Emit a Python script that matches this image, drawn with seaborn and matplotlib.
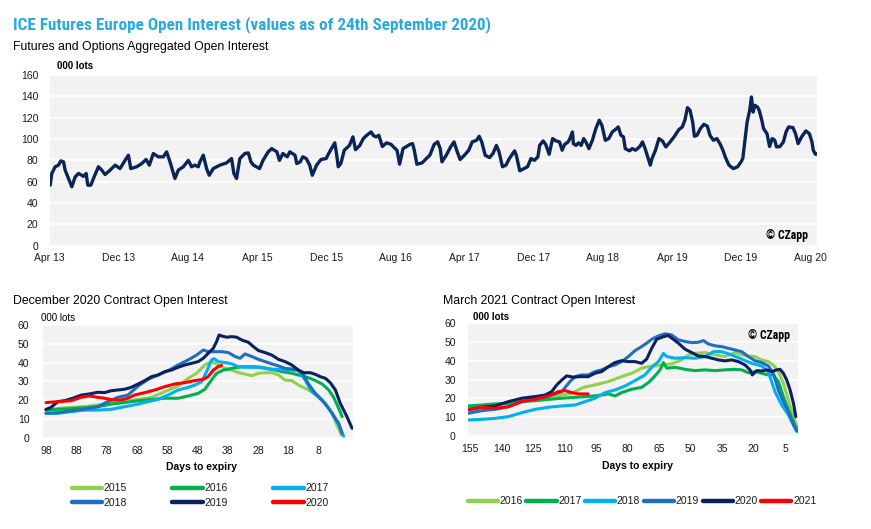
import matplotlib
matplotlib.use("Agg")
import matplotlib.pyplot as plt
import seaborn as sns
import pandas as pd
from matplotlib.lines import Line2D

W, H = 871, 529

# ---------------- data: top chart (months since Apr 2013, 000 lots) ----------------
top_month = [0.08, 0.27, 0.66, 1.04, 1.31, 1.62, 1.81, 2.2, 2.58, 2.97, 3.35, 3.74, 3.93, 4.24, 4.43, 4.78,
             5.16, 5.66, 6.05, 6.43, 7.01, 7.59, 8.16, 8.74, 9.13, 9.4, 10.09, 10.67, 11.17, 11.55, 12.01,
             12.59, 13.17, 13.55, 13.94, 14.51, 14.9, 15.48, 16.06, 16.44, 16.82, 17.21, 17.4, 17.79, 18.17,
             18.48, 18.94, 19.71, 20.48, 21.06, 21.33, 21.64, 22.02,
             22.6, 23.0, 23.3, 23.6, 24.3, 24.7, 25.3, 25.7, 26.3, 26.6, 27.0, 27.5, 27.8, 28.4, 28.6, 29.0,
             29.3, 29.7, 30.1, 30.4, 30.9, 31.4, 32.0, 32.4, 33.0, 33.2, 33.4, 33.7, 34.1, 34.7, 35.1, 35.4,
             35.9, 36.3, 36.7, 37.2, 37.5, 37.8, 38.1, 38.5, 39.0, 39.5, 39.9, 40.2, 40.5, 40.9, 41.3, 41.7,
             42.0, 42.2, 42.5, 43.1, 43.6, 44.0,
             44.5, 44.9, 45.2, 45.4, 45.9, 46.4, 46.8, 47.1, 47.5, 48.0, 48.5, 48.9, 49.4, 49.7, 50.0, 50.4,
             50.9, 51.3, 51.7, 52.0, 52.4, 52.8, 53.2, 53.8, 54.0, 54.4, 54.9, 55.3, 55.7, 56.1, 56.5, 56.7,
             57.1, 57.4, 57.8, 58.2, 58.6, 59.0, 59.3, 59.6, 60.0, 60.2, 60.5, 60.6, 60.9, 61.2, 61.5, 61.8,
             62.1, 62.4, 62.8, 63.2, 63.6, 63.9, 64.3, 64.7,
             65.1, 65.6, 65.8, 66.1, 66.4, 66.6, 67.1, 67.4, 67.8, 68.3, 68.6, 68.9, 69.2, 69.5, 69.7, 70.1,
             70.5, 70.9, 71.3, 71.8, 72.3, 72.8, 73.2, 73.5, 73.8, 74.1, 74.4, 74.6, 74.9, 75.3, 75.7, 76.1,
             76.4, 76.8, 77.2, 77.6, 77.9, 78.2, 78.6, 79.1, 79.6, 80.0, 80.2, 80.5, 80.7, 81.0, 81.2, 81.4,
             81.6, 81.9, 82.1, 82.4, 82.6, 83.0, 83.3, 83.6, 83.9, 84.1, 84.5, 84.9, 85.2, 85.5, 86.0, 86.3,
             86.6, 87.0, 87.5, 87.9, 88.2, 88.35, 88.6, 88.75]
top_oi = [56.7, 67.7, 74, 75.5, 79.5, 78.6, 70.8, 63, 55.2, 64.5, 67.7, 66, 65, 67.7, 56.7, 56.7,
          64.5, 74, 70.8, 66.7, 70.8, 75.5, 72.3, 80, 84.8, 72.3, 74, 77, 80.8, 75.5, 86.4,
          83.3, 83.3, 88, 78.6, 63, 70.8, 74, 80, 74, 75.5, 74, 78.6, 84.8, 72.3,
          66, 72.3, 75.5, 77.6, 81.7, 67.7, 63, 81.7,
          86.4, 87, 78.6, 75.5, 72.3, 80, 88, 91, 88, 80, 86.4, 83.3, 88, 84.8, 77, 78.6,
          83.3, 81.7, 75.5, 66, 75.5, 80.8, 81.7, 88, 96.4, 86.4, 74, 77, 89.5, 94, 102, 90,
          94, 100.4, 103.5, 106.6, 103, 102, 103.5, 93, 96.4, 95, 91.7, 89.5, 76.4, 91, 93, 95,
          95.7, 89.5, 76.4, 77.6, 81.7, 84.8,
          95, 97.3, 91, 78.6, 84.8, 92.6, 97.3, 89.5, 80.8, 84.8, 89.5, 97.3, 98.8, 102.6, 97.3, 84.8,
          82.6, 86.4, 94, 88, 74, 75.5, 81.7, 88.9, 84.8, 70.2, 72.3, 74, 81.7, 80, 83.3, 94,
          98.2, 95, 85.7, 100.4, 98.2, 97.3, 89.5, 95, 97.3, 100.4, 106.6, 95.7, 94, 96.4, 94, 100.4,
          96.4, 91, 98.8, 109.8, 117.6, 112.9, 98.8, 100.4,
          106.6, 109.8, 111.3, 103.5, 102, 91, 88.9, 91, 89.5, 93, 97.3, 91, 83.3, 75.5, 81.7, 89.5,
          100.4, 98.2, 92.6, 97.3, 102.6, 108.8, 111.3, 117.6, 129.4, 126.9, 116, 102.6, 103.5, 109.8, 113.8, 112,
          103.5, 98.8, 100.4, 95, 89.5, 82.6, 75.5, 72.3, 74, 78.6, 81.7, 102, 116, 126.9, 139.4, 125.3,
          131.6, 130, 126.9, 117.6, 109.8, 105, 93, 100.4, 98.8, 92.6, 93, 97.3, 106.6, 111.3, 110.7, 105,
          95.7, 102, 107.6, 105, 97.3, 89.5, 85.7, 86.0]
top_tick_months = [0, 8, 16, 24, 32, 40, 48, 56, 64, 72, 80, 88]
top_tick_labels = ["Apr 13", "Dec 13", "Aug 14", "Apr 15", "Dec 15", "Aug 16",
                   "Apr 17", "Dec 17", "Aug 18", "Apr 19", "Dec 19", "Aug 20"]

# ---------------- data: December 2020 contract (days to expiry, 000 lots) ----------------
dec_years = ["2015", "2016", "2017", "2018", "2019", "2020"]
dec_days_2015 = [98, 94.1, 89.7, 85.3, 80.9, 76.5, 72.1, 67.6, 63.2, 58.8, 54.4, 51.1, 48.3, 45.6, 43.4, 41.2,
                 38.9, 36.7, 34.5, 32.3, 30.1, 27.9, 25.7, 23.5, 21.3, 19.1, 16.9, 14.7, 12.5, 10.3, 8.0, 5.8,
                 3.6, 2.0, 0.5]
dec_oi_2015 = [14.7, 15.6, 16.2, 16.5, 17.4, 18.3, 19.2, 20.4, 21.5, 24.5, 27.5, 31.6, 34.3, 38.7, 40.5, 38.7,
               36.9, 36, 34.6, 33.9, 33, 34.3, 34.6, 34.6, 33.4, 30.7, 30.4, 28, 26.3, 24.5, 21.8, 18.3,
               13, 6.7, 1.4]
dec_days_2016 = [98, 94.1, 89.7, 85.3, 80.9, 76.5, 72.1, 67.6, 63.2, 58.8, 54.4, 51.1, 47.8, 45.6, 43.4, 41.7,
                 39.5, 36.7, 33.4, 30.1, 26.8, 23.5, 20.2, 16.9, 13.6, 10.8, 9.1, 6.9, 4.7, 3.1, 1.4, 0.3]
dec_oi_2016 = [14.7, 15.1, 15.5, 16, 16.5, 17.9, 18.7, 19.7, 20.4, 21, 21, 22.2, 23.6, 25.8, 30.7, 34.3,
               36, 36.9, 37.8, 37.8, 37.5, 36.4, 35.2, 34.3, 32.9, 31.6, 30.4, 28.6, 25.4, 21.5, 15.6, 11.2]
dec_days_2017 = [98, 94.1, 89.7, 85.3, 80.9, 76.5, 72.1, 67.6, 64.3, 61.0, 57.7, 54.4, 51.1, 48.9, 46.7, 45.0,
                 43.4, 42.5, 41.2, 38.9, 36.7, 34.5, 32.3, 30.1, 27.9, 25.7, 23.5, 21.3, 19.1, 16.9, 14.7, 12.5,
                 10.3, 8.0, 5.8, 3.6, 1.4, -0.2]
dec_oi_2017 = [13, 13, 13.9, 14.7, 14.7, 15.1, 16.5, 17.9, 19.2, 20.4, 22.7, 25.4, 26.8, 28, 29.8, 35.2,
               41.4, 42.1, 40.5, 40, 39.3, 37.8, 37.5, 37.5, 37.5, 36.8, 36.4, 36.4, 36.4, 36, 35.7, 30.7,
               24.5, 21.5, 17.9, 13, 6.7, 0.9]
dec_days_2018 = [98, 94.1, 89.7, 85.3, 80.9, 77.6, 74.3, 71.0, 67.6, 64.3, 61.0, 57.7, 54.4, 51.1, 48.3, 46.1,
                 44.5, 42.3, 40.1, 37.8, 35.6, 34.0, 32.3, 30.1, 27.9, 25.7, 23.5, 21.3, 19.1, 16.9, 14.7, 13.0,
                 11.4, 9.1, 6.9, 4.7, 2.5, 1.4, 0.3]
dec_oi_2018 = [13, 13.3, 14.4, 15.1, 16.5, 19.2, 21.5, 22.7, 27.5, 31.1, 33.4, 35.7, 38.7, 41.4, 44, 46.7,
               45.8, 45.8, 45.8, 45.3, 43.2, 42.3, 44.6, 43.2, 41.7, 40.5, 39.3, 38.2, 36.9, 36.6, 36, 33.4,
               28.6, 23.6, 20, 15.6, 10.3, 7.6, 2.3]
dec_days_2019 = [98, 96.3, 94.1, 91.9, 89.2, 86.4, 83.7, 80.9, 78.7, 76.5, 74.3, 72.1, 69.9, 67.6, 65.4, 63.2,
                 61.0, 58.8, 56.6, 54.4, 52.2, 50.0, 47.8, 46.1, 44.5, 42.8, 41.7, 40.9, 40.1, 38.4, 36.7, 35.1,
                 33.4, 31.2, 29.6, 27.9, 25.7, 23.5, 21.3, 19.1, 16.9, 14.7, 13.0, 10.8, 9.1, 7.5, 5.8, 4.2,
                 2.5, 0.9, -1.3, -3.0]
dec_oi_2019 = [15.1, 16.2, 19.2, 19.7, 21, 22.7, 23.3, 24.2, 24, 25, 25.4, 25.8, 26.8, 28.6, 30.4, 32.5,
               33.4, 35.2, 36, 37.5, 38.7, 39.6, 40.5, 42.3, 44.9, 47.6, 51.2, 54.7, 54.2, 53.5, 53.8, 53.5,
               52, 50.8, 48.5, 46.4, 45.3, 44, 41.7, 40.5, 38.7, 36, 34.6, 34.6, 33.7, 32.5, 31.6, 29.3,
               25.4, 18.3, 11.2, 5]
dec_days_2020 = [98, 94.1, 89.7, 86.4, 83.7, 80.9, 78.7, 75.9, 73.2, 71.0, 68.8, 65.4, 62.1, 58.8, 55.5, 52.2,
                 48.9, 46.1, 44.5, 42.8, 41.2, 40.1]
dec_oi_2020 = [18.7, 19.2, 19.7, 21.5, 22.2, 21.5, 21, 20.1, 20.1, 21, 22.7, 24, 25.4, 27.2, 28.6, 29.3,
               30.4, 31.1, 32.5, 36, 37.8, 38.5]
dec_ticks = [98, 88, 78, 68, 58, 48, 38, 28, 18, 8]

# ---------------- data: March 2021 contract ----------------
mar_years = ["2016", "2017", "2018", "2019", "2020", "2021"]
mar_days_2016 = [155.8, 149.4, 143.1, 136.7, 130.4, 124.0, 117.7, 111.3, 106.6, 103.4, 101.0, 95.5, 89.1, 82.8,
                 78.0, 73.3, 68.5, 63.7, 59.0, 54.2, 51.0, 47.9, 43.1, 38.3, 33.6, 28.8, 25.6, 22.5, 19.3, 16.1,
                 13.0, 10.6, 8.2, 5.8, 3.4, 1.0, -0.6]
mar_oi_2016 = [15.6, 16, 16.5, 17.4, 19.2, 20.1, 20.6, 21.8, 22.7, 24.5, 25.9, 27.2, 29, 31.6,
               33.4, 36.1, 37.3, 37.8, 38.4, 40.5, 43.2, 44, 44.4, 43.2, 42.3, 44.4, 43.2, 42.6, 42.3, 40.5,
               39.6, 37.8, 34.3, 28.1, 19.2, 10.3, 5]
mar_days_2017 = [155.8, 149.4, 143.1, 136.7, 130.4, 124.0, 117.7, 111.3, 105.0, 98.7, 92.3, 89.1, 86.0, 82.8,
                 78.0, 73.3, 70.1, 66.9, 64.5, 62.9, 61.3, 57.4, 52.6, 47.9, 43.1, 38.3, 33.6, 28.8, 25.6, 22.5,
                 19.3, 16.1, 13.0, 10.6, 8.2, 5.8, 3.4, 1.0, -0.6]
mar_oi_2017 = [16, 16.5, 17.1, 17.4, 18.3, 18.8, 19.5, 20.1, 20.6, 21, 21.8, 22.4, 21.3, 23.1,
               24.9, 25.9, 28.4, 32, 35.2, 39.1, 36.1, 36.6, 35.5, 34.8, 35.2, 34.8, 35.2, 35.5, 35.2, 33.7,
               34.3, 33.4, 32.5, 32.5, 29, 21, 13.9, 7.6, 3.6]
mar_days_2018 = [155.8, 149.4, 143.1, 136.7, 130.4, 124.0, 117.7, 111.3, 105.0, 100.2, 95.5, 90.7, 86.0, 81.2,
                 76.4, 71.7, 68.5, 65.3, 62.9, 61.3, 57.4, 52.6, 47.9, 43.1, 39.1, 35.2, 30.4, 25.6, 20.9, 16.1,
                 13.0, 9.8, 6.6, 3.4, 1.0, -0.6]
mar_oi_2018 = [8.5, 8.9, 9.4, 10.3, 12.4, 14.2, 15.3, 16, 16.5, 18.3, 20.1, 23.1, 24.5, 26.6,
               29.5, 32.5, 36.6, 39.6, 44, 42.3, 41.4, 41.7, 41.4, 42.3, 44.9, 44.9, 43.2, 40.9, 38.7, 37.3,
               34.3, 23.6, 16.5, 11.2, 5.9, 2.3]
mar_days_2019 = [155.8, 149.4, 143.1, 136.7, 130.4, 124.0, 117.7, 111.3, 107.4, 105.0, 101.8, 98.7, 95.5, 92.3,
                 89.1, 86.0, 82.8, 79.6, 76.4, 73.3, 70.9, 68.5, 65.3, 62.1, 59.0, 55.8, 52.6, 49.4, 46.3, 43.9,
                 41.5, 38.3, 35.2, 32.0, 28.8, 25.6, 22.5, 19.3, 16.1, 13.0, 10.6, 8.2, 5.8, 3.4, 1.0, -0.6]
mar_oi_2019 = [12.1, 13.5, 14.2, 15.6, 18.3, 20.1, 21.3, 23.6, 29, 31.6, 32.5, 32.5, 34.3, 35.2,
               36.9, 37.8, 39.6, 42.3, 45.5, 47.6, 49.4, 51.5, 53.3, 54.4, 53.8, 51.2, 50.3, 49.7, 49.9, 50.8,
               49, 48, 47.6, 46.7, 45.8, 44.9, 42.3, 40.1, 39.1, 37.3, 33.4, 24.5, 18.3, 13, 5.9, 2.8]
mar_days_2020 = [155.8, 149.4, 143.1, 136.7, 130.4, 124.0, 119.3, 116.1, 113.7, 111.3, 109.0, 105.8, 102.6, 98.7,
                 95.5, 92.3, 89.1, 86.0, 82.8, 79.6, 76.4, 73.3, 70.9, 68.5, 66.1, 62.9, 60.6, 58.2, 55.8, 52.6,
                 49.4, 46.3, 43.1, 39.9, 36.7, 33.6, 30.4, 27.2, 24.0, 21.7, 20.6, 18.5, 16.1, 13.7, 11.3, 9.0,
                 7.4, 5.8, 4.2, 2.6, 1.0, -0.1]
mar_oi_2020 = [13.9, 15.3, 16, 18.3, 20.1, 21, 21.8, 23.6, 27.2, 29.8, 32, 31.3, 31.6, 31.6,
               33.4, 34.3, 36.9, 39.1, 40.1, 39.6, 39.6, 38.7, 40.9, 46.7, 51.5, 52.9, 53.5, 51.5, 49.4, 46.2,
               44.4, 42.6, 42.3, 41.4, 40.5, 40, 40.5, 39.6, 37.8, 35.2, 32.5, 34.8, 34.6, 35.2, 34.3, 35.2,
               35.5, 33.4, 29.8, 24.5, 17.4, 10.3]
mar_days_2021 = [155.8, 149.4, 143.1, 136.7, 130.4, 124.0, 117.7, 112.9, 109.8, 106.6, 103.4, 98.7]
mar_oi_2021 = [14.2, 15.3, 14.7, 15.6, 18.3, 19.5, 21.3, 23.6, 24.2, 23.1, 22.4, 22.4]
mar_ticks = [155, 140, 125, 110, 95, 80, 65, 50, 35, 20, 5]

# ---------------- style ----------------
sns.set_style("white")
plt.rcParams['font.family'] = ['Liberation Sans', 'DejaVu Sans']
NARROW = ['Roboto Condensed', 'Liberation Sans']
TXT = '#1a1a1a'
NAVY = '#0a2457'
pal_colors = ['#92d050', '#00b050', '#00b0f0', '#1f6fc0', '#0b2160', '#ff0000']

fig = plt.figure(figsize=(W / 100, H / 100), dpi=100)
fig.patch.set_facecolor('white')


def add_ax(l, t, r, b):
    return fig.add_axes([l / W, 1 - b / H, (r - l) / W, (b - t) / H])


def fx(x):
    return x / W


def fy(y):
    return 1 - y / H


def style_ax(ax, ystep, ymax, ypad, xpad):
    ax.set_facecolor('#f2f2f2')
    for s in ax.spines.values():
        s.set_visible(False)
    ax.set_ylim(0, ymax)
    ax.set_yticks(list(range(0, ymax + 1, ystep)))
    ax.yaxis.grid(True, color='white', lw=1.2)
    ax.xaxis.grid(False)
    ax.set_axisbelow(True)
    ax.tick_params(axis='both', length=0, labelsize=7.5, colors=TXT)
    ax.tick_params(axis='y', pad=ypad)
    ax.tick_params(axis='x', pad=xpad)
    ax.set_xlabel('')
    ax.set_ylabel('')


# ---------------- top chart ----------------
ax1 = add_ax(49.5, 75, 816.7, 245.7)
df_top = pd.DataFrame({'month': top_month, 'oi': top_oi})
sns.lineplot(data=df_top, x='month', y='oi', ax=ax1, color=NAVY, lw=2.4,
             estimator=None, sort=False)
style_ax(ax1, 20, 160, 8, 5)
ax1.set_xlim(0, 88.75)
ax1.set_xticks(top_tick_months)
ax1.set_xticklabels(top_tick_labels)
fig.text(fx(808), fy(236), '© CZapp', ha='right', va='center',
         fontsize=8.5, fontweight='bold', color='black', family=NARROW)


# ---------------- bottom charts ----------------
def long_df(years, days_lists, oi_lists):
    frames = []
    for y, d, v in zip(years, days_lists, oi_lists):
        frames.append(pd.DataFrame({'days': d, 'oi': v, 'year': y}))
    return pd.concat(frames, ignore_index=True)


df_dec = long_df(dec_years,
                 [dec_days_2015, dec_days_2016, dec_days_2017, dec_days_2018, dec_days_2019, dec_days_2020],
                 [dec_oi_2015, dec_oi_2016, dec_oi_2017, dec_oi_2018, dec_oi_2019, dec_oi_2020])
df_mar = long_df(mar_years,
                 [mar_days_2016, mar_days_2017, mar_days_2018, mar_days_2019, mar_days_2020, mar_days_2021],
                 [mar_oi_2016, mar_oi_2017, mar_oi_2018, mar_oi_2019, mar_oi_2020, mar_oi_2021])

pal_dec = dict(zip(dec_years, pal_colors))
pal_mar = dict(zip(mar_years, pal_colors))

ax2 = add_ax(43.3, 325, 353, 437.7)
sns.lineplot(data=df_dec, x='days', y='oi', hue='year', hue_order=dec_years, palette=pal_dec,
             ax=ax2, lw=2.2, estimator=None, sort=False, legend=False)
style_ax(ax2, 10, 60, 10, 6)
ax2.set_xlim(98.9, -3.3)
ax2.set_xticks(dec_ticks)
ax2.set_xticklabels([str(t) for t in dec_ticks])

ax3 = add_ax(468.3, 323.3, 798.3, 436)
sns.lineplot(data=df_mar, x='days', y='oi', hue='year', hue_order=mar_years, palette=pal_mar,
             ax=ax3, lw=2.2, estimator=None, sort=False, legend=False)
style_ax(ax3, 10, 60, 9, 6)
ax3.set_xlim(155.8, -1.3)
ax3.set_xticks(mar_ticks)
ax3.set_xticklabels([str(t) for t in mar_ticks])
fig.text(fx(790), fy(335), '© CZapp', ha='right', va='center',
         fontsize=8.5, fontweight='bold', color='black', family=NARROW)

# ---------------- texts ----------------
fig.text(fx(13), fy(25), 'ICE Futures Europe Open Interest (values as of 24th September 2020)',
         ha='left', va='center', fontsize=12.3, fontweight='bold', color='#29abe2', family=NARROW)
fig.text(fx(13), fy(47), 'Futures and Options Aggregated Open Interest', ha='left', va='center',
         fontsize=8.8, color='black')
fig.text(fx(57), fy(66), '000 lots', ha='left', va='center', fontsize=7, fontweight='bold', color='black')

fig.text(fx(13), fy(301), 'December 2020 Contract Open Interest', ha='left', va='center',
         fontsize=8.8, color='black')
fig.text(fx(41), fy(318), '000 lots', ha='left', va='center', fontsize=7, color='black')
fig.text(fx(201), fy(467), 'Days to expiry', ha='center', va='center', fontsize=7.5,
         fontweight='bold', color='black')

fig.text(fx(443), fy(301), 'March 2021 Contract Open Interest', ha='left', va='center',
         fontsize=8.8, color='black')
fig.text(fx(473), fy(317), '000 lots', ha='left', va='center', fontsize=7, fontweight='bold', color='black')
fig.text(fx(637), fy(466), 'Days to expiry', ha='center', va='center', fontsize=7.5,
         fontweight='bold', color='black')

# ---------------- legends ----------------
h_dec = {y: Line2D([], [], color=pal_dec[y], lw=3.2) for y in dec_years}
order = ["2015", "2018", "2016", "2019", "2017", "2020"]
fig.legend([h_dec[y] for y in order], order, ncol=3, loc='center',
           bbox_to_anchor=(fx(200), fy(495.5)), frameon=False, fontsize=7.5,
           handlelength=2.9, handletextpad=0.15, columnspacing=4.4, labelspacing=0.45,
           borderaxespad=0, borderpad=0, labelcolor=TXT)

h_mar = [Line2D([], [], color=pal_mar[y], lw=3.2) for y in mar_years]
fig.legend(h_mar, mar_years, ncol=6, loc='center',
           bbox_to_anchor=(fx(642), fy(501.5)), frameon=False, fontsize=7.5,
           handlelength=2.9, handletextpad=0.15, columnspacing=0.35,
           borderaxespad=0, borderpad=0, labelcolor=TXT)

fig.savefig('out.png', dpi=100, facecolor='white')
